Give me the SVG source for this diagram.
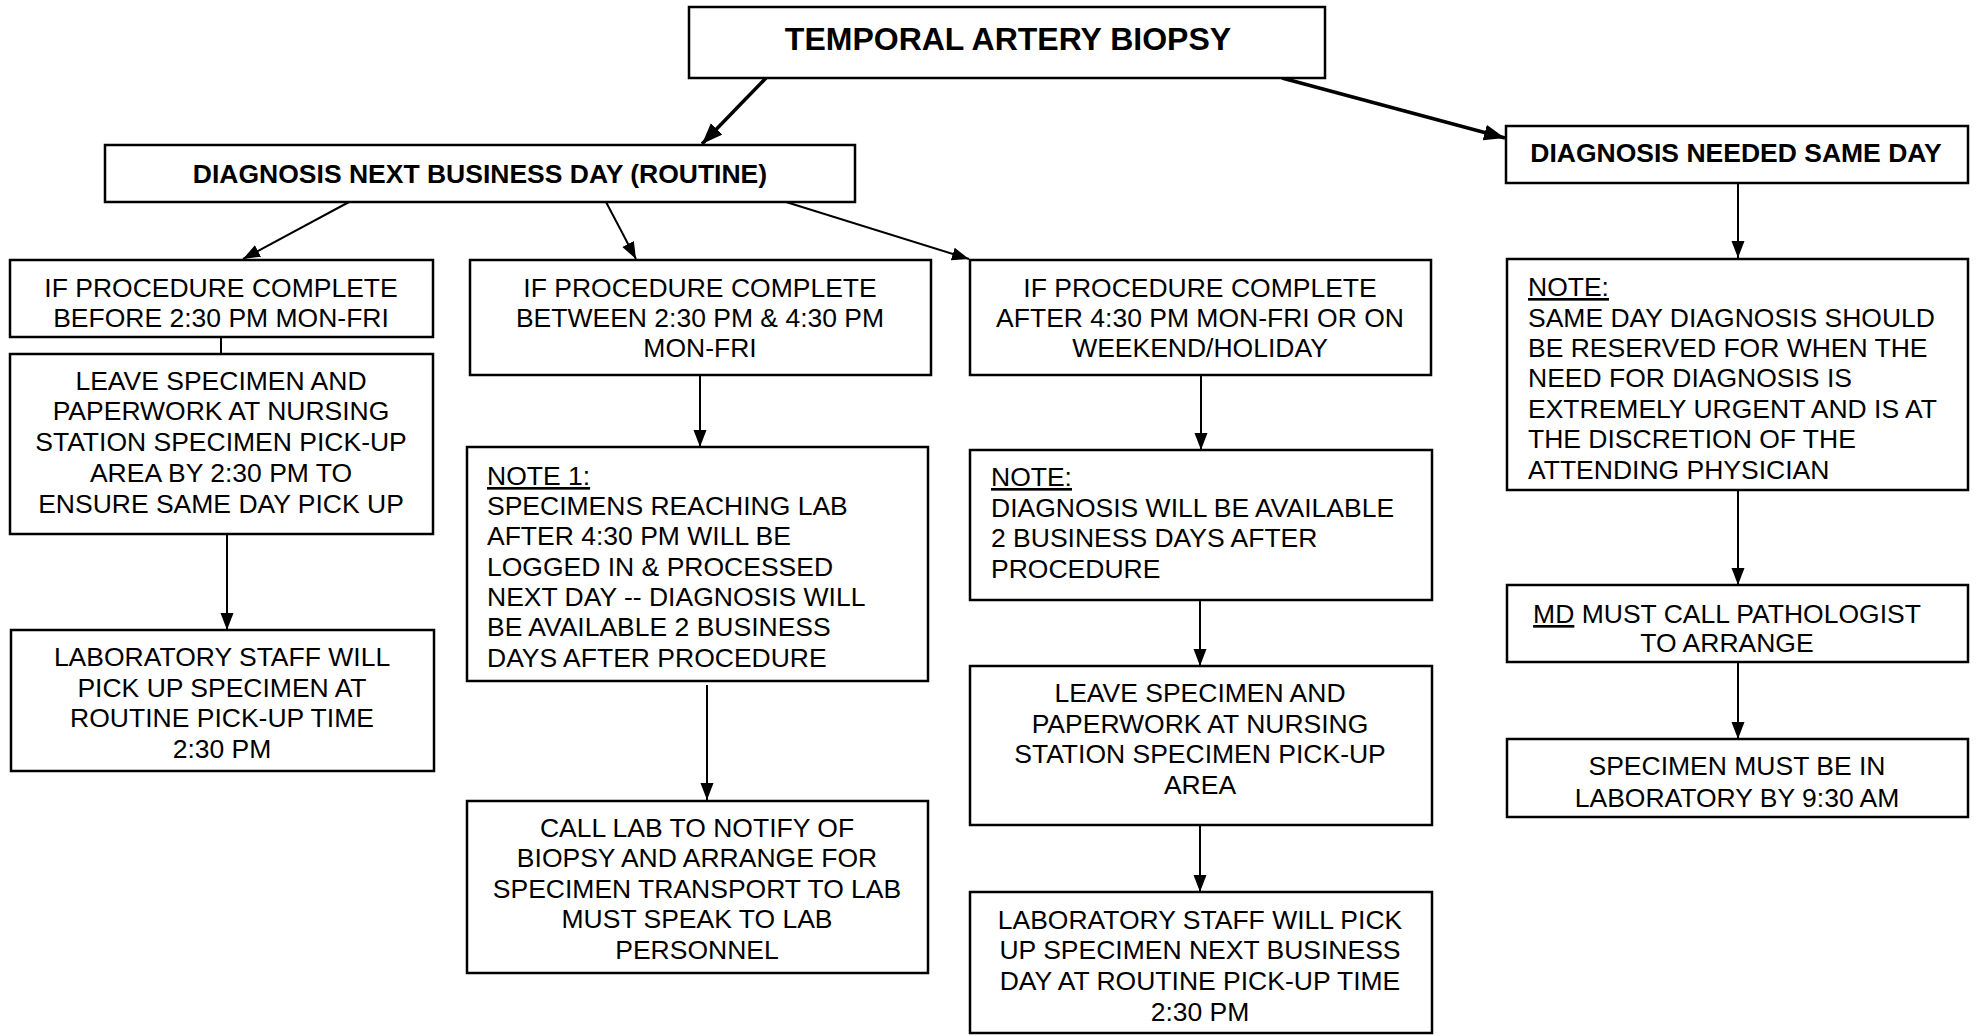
<svg xmlns="http://www.w3.org/2000/svg" width="1980" height="1036" viewBox="0 0 1980 1036">
<style>
.box{fill:#fff;stroke:#000;stroke-width:2.5}
.t{font-family:"Liberation Sans",Arial,sans-serif;font-size:26.5px;fill:#000}
.c{text-anchor:middle}
.b{font-weight:bold}
.ln{stroke:#000;stroke-width:2;fill:none}
.thk{stroke:#000;stroke-width:3.5;fill:none}
.u{text-decoration:underline}
</style>
<defs>
<marker id="ah" markerUnits="userSpaceOnUse" markerWidth="18" markerHeight="14" refX="17" refY="6.5" orient="auto"><path d="M0,0 L17,6.5 L0,13 z" fill="#000"/></marker>
<marker id="ahb" markerUnits="userSpaceOnUse" markerWidth="22" markerHeight="18" refX="21" refY="8" orient="auto"><path d="M0,0 L21,8 L0,16 z" fill="#000"/></marker>
</defs>
<rect width="1980" height="1036" fill="#fff"/>
<g id="connectors">
<line class="thk" x1="766" y1="78" x2="702" y2="144" marker-end="url(#ahb)"/>
<line class="thk" x1="1282" y1="78" x2="1505" y2="138" marker-end="url(#ahb)"/>
<line class="ln" x1="349" y1="202" x2="243" y2="259" marker-end="url(#ah)"/>
<line class="ln" x1="606" y1="202" x2="636" y2="259" marker-end="url(#ah)"/>
<line class="ln" x1="786" y1="202" x2="969" y2="259" marker-end="url(#ah)"/>
<line class="ln" x1="221" y1="337" x2="221" y2="354"/>
<line class="ln" x1="227" y1="534" x2="227" y2="630" marker-end="url(#ah)"/>
<line class="ln" x1="700" y1="375" x2="700" y2="447" marker-end="url(#ah)"/>
<line class="ln" x1="707" y1="685" x2="707" y2="800" marker-end="url(#ah)"/>
<line class="ln" x1="1201" y1="375" x2="1201" y2="450" marker-end="url(#ah)"/>
<line class="ln" x1="1200" y1="600" x2="1200" y2="666" marker-end="url(#ah)"/>
<line class="ln" x1="1200" y1="825" x2="1200" y2="892" marker-end="url(#ah)"/>
<line class="ln" x1="1738" y1="183" x2="1738" y2="258" marker-end="url(#ah)"/>
<line class="ln" x1="1738" y1="490" x2="1738" y2="585" marker-end="url(#ah)"/>
<line class="ln" x1="1738" y1="662" x2="1738" y2="739" marker-end="url(#ah)"/>
</g>
<g id="title"><rect class="box" x="689" y="7" width="636" height="71"/>
<text class="t c b" x="1008" y="50" style="font-size:32px">TEMPORAL ARTERY BIOPSY</text></g>
<g id="routine"><rect class="box" x="105" y="145" width="750" height="57"/>
<text class="t c b" x="480" y="183">DIAGNOSIS NEXT BUSINESS DAY (ROUTINE)</text></g>
<g id="sameday"><rect class="box" x="1506" y="126" width="462" height="57"/>
<text class="t c b" x="1736" y="162">DIAGNOSIS NEEDED SAME DAY</text></g>
<g id="a1"><rect class="box" x="10" y="260" width="423" height="77"/>
<text class="t c" x="221"><tspan x="221" y="297">IF PROCEDURE COMPLETE</tspan><tspan x="221" y="327">BEFORE 2:30 PM MON-FRI</tspan></text></g>
<g id="a2"><rect class="box" x="10" y="354" width="423" height="180"/>
<text class="t c" x="221"><tspan x="221" y="390">LEAVE SPECIMEN AND</tspan><tspan x="221" y="420">PAPERWORK AT NURSING</tspan><tspan x="221" y="451">STATION SPECIMEN PICK-UP</tspan><tspan x="221" y="482">AREA BY 2:30 PM TO</tspan><tspan x="221" y="513">ENSURE SAME DAY PICK UP</tspan></text></g>
<g id="a3"><rect class="box" x="11" y="630" width="423" height="141"/>
<text class="t c" x="222"><tspan x="222" y="666">LABORATORY STAFF WILL</tspan><tspan x="222" y="697">PICK UP SPECIMEN AT</tspan><tspan x="222" y="727">ROUTINE PICK-UP TIME</tspan><tspan x="222" y="758">2:30 PM</tspan></text></g>
<g id="b1"><rect class="box" x="470" y="260" width="461" height="115"/>
<text class="t c" x="700"><tspan x="700" y="297">IF PROCEDURE COMPLETE</tspan><tspan x="700" y="327">BETWEEN 2:30 PM &amp; 4:30 PM</tspan><tspan x="700" y="357">MON-FRI</tspan></text></g>
<g id="b2"><rect class="box" x="467" y="447" width="461" height="234"/>
<text class="t" x="487"><tspan x="487" y="485" class="u">NOTE 1:</tspan><tspan x="487" y="515">SPECIMENS REACHING LAB</tspan><tspan x="487" y="545">AFTER 4:30 PM WILL BE</tspan><tspan x="487" y="576">LOGGED IN &amp; PROCESSED</tspan><tspan x="487" y="606">NEXT DAY -- DIAGNOSIS WILL</tspan><tspan x="487" y="636">BE AVAILABLE 2 BUSINESS</tspan><tspan x="487" y="667">DAYS AFTER PROCEDURE</tspan></text></g>
<g id="b3"><rect class="box" x="467" y="801" width="461" height="172"/>
<text class="t c" x="697"><tspan x="697" y="837">CALL LAB TO NOTIFY OF</tspan><tspan x="697" y="867">BIOPSY AND ARRANGE FOR</tspan><tspan x="697" y="898">SPECIMEN TRANSPORT TO LAB</tspan><tspan x="697" y="928">MUST SPEAK TO LAB</tspan><tspan x="697" y="959">PERSONNEL</tspan></text></g>
<g id="c1"><rect class="box" x="970" y="260" width="461" height="115"/>
<text class="t c" x="1200"><tspan x="1200" y="297">IF PROCEDURE COMPLETE</tspan><tspan x="1200" y="327">AFTER 4:30 PM MON-FRI OR ON</tspan><tspan x="1200" y="357">WEEKEND/HOLIDAY</tspan></text></g>
<g id="c2"><rect class="box" x="970" y="450" width="462" height="150"/>
<text class="t" x="991"><tspan x="991" y="486" class="u">NOTE:</tspan><tspan x="991" y="517">DIAGNOSIS WILL BE AVAILABLE</tspan><tspan x="991" y="547">2 BUSINESS DAYS AFTER</tspan><tspan x="991" y="578">PROCEDURE</tspan></text></g>
<g id="c3"><rect class="box" x="970" y="666" width="462" height="159"/>
<text class="t c" x="1200"><tspan x="1200" y="702">LEAVE SPECIMEN AND</tspan><tspan x="1200" y="733">PAPERWORK AT NURSING</tspan><tspan x="1200" y="763">STATION SPECIMEN PICK-UP</tspan><tspan x="1200" y="794">AREA</tspan></text></g>
<g id="c4"><rect class="box" x="970" y="892" width="462" height="141"/>
<text class="t c" x="1200"><tspan x="1200" y="929">LABORATORY STAFF WILL PICK</tspan><tspan x="1200" y="959">UP SPECIMEN NEXT BUSINESS</tspan><tspan x="1200" y="990">DAY AT ROUTINE PICK-UP TIME</tspan><tspan x="1200" y="1021">2:30 PM</tspan></text></g>
<g id="d1"><rect class="box" x="1507" y="259" width="461" height="231"/>
<text class="t" x="1528"><tspan x="1528" y="296" class="u">NOTE:</tspan><tspan x="1528" y="327">SAME DAY DIAGNOSIS SHOULD</tspan><tspan x="1528" y="357">BE RESERVED FOR WHEN THE</tspan><tspan x="1528" y="387">NEED FOR DIAGNOSIS IS</tspan><tspan x="1528" y="418">EXTREMELY URGENT AND IS AT</tspan><tspan x="1528" y="448">THE DISCRETION OF THE</tspan><tspan x="1528" y="479">ATTENDING PHYSICIAN</tspan></text></g>
<g id="d2"><rect class="box" x="1507" y="585" width="461" height="77"/>
<text class="t c" x="1727"><tspan x="1727" y="623"><tspan class="u">MD</tspan> MUST CALL PATHOLOGIST</tspan><tspan x="1727" y="652">TO ARRANGE</tspan></text></g>
<g id="d3"><rect class="box" x="1507" y="739" width="461" height="78"/>
<text class="t c" x="1737"><tspan x="1737" y="775">SPECIMEN MUST BE IN</tspan><tspan x="1737" y="807">LABORATORY BY 9:30 AM</tspan></text></g>
</svg>
